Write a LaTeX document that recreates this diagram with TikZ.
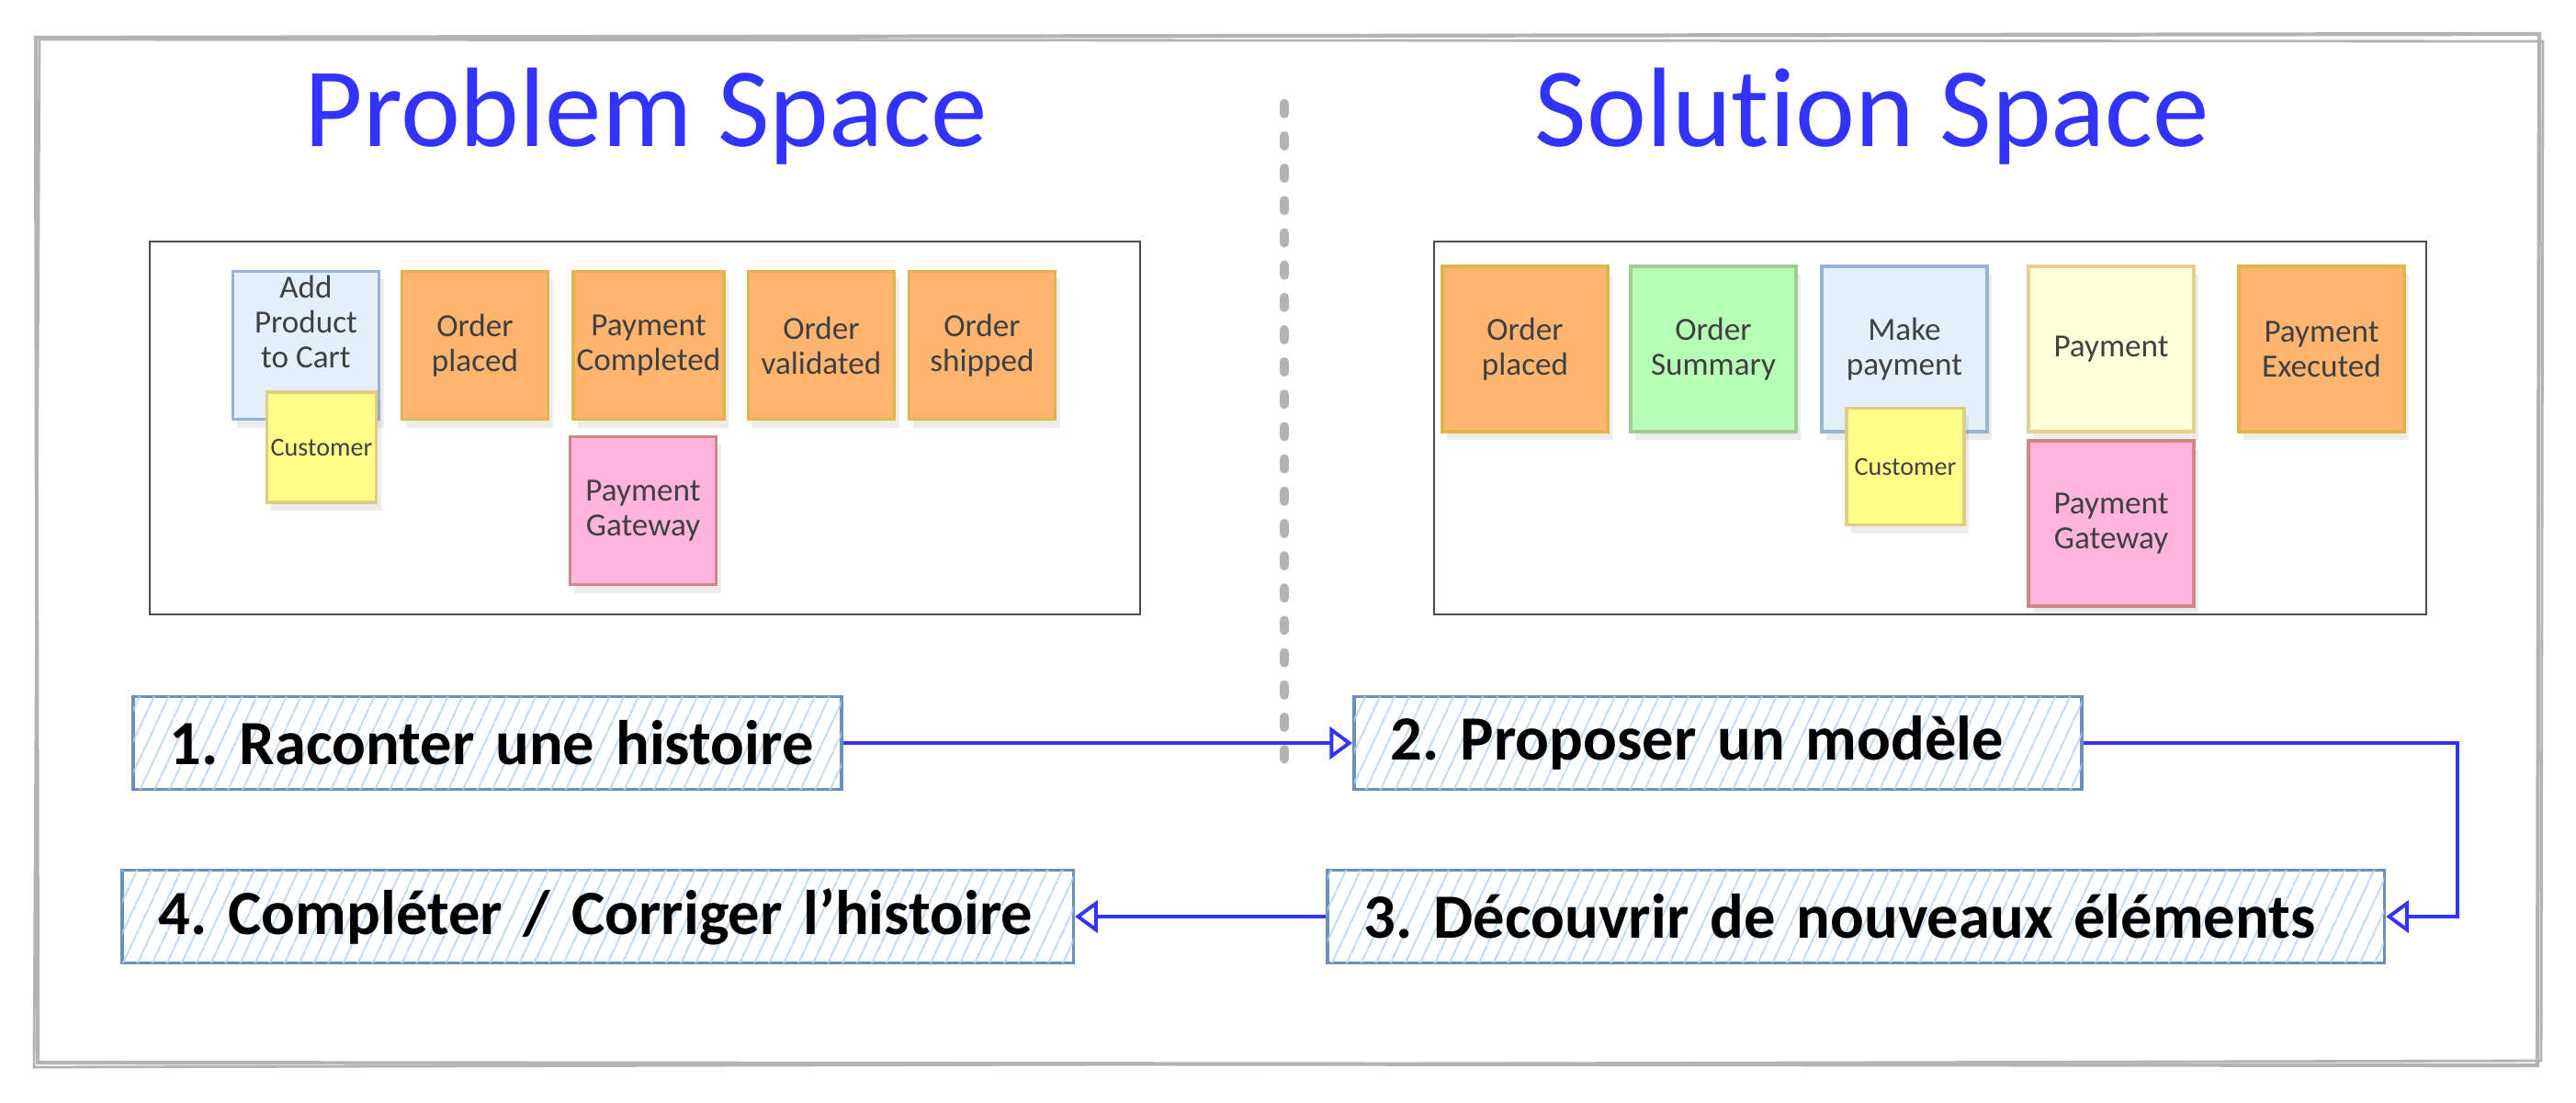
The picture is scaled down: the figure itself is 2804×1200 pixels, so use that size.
\documentclass[tikz,border=0pt]{standalone}
\usepackage{fontspec}
\setmainfont[Ligatures={NoCommon}]{Carlito}
\usetikzlibrary{arrows.meta, shadows, patterns.meta}
\frenchspacing
\definecolor{titleblue}{HTML}{3333FF}
\definecolor{framegray}{HTML}{B3B3B3}
\definecolor{boardgray}{HTML}{4D4D4D}
\definecolor{notetext}{HTML}{404040}
\definecolor{orangefill}{HTML}{FFB570}
\definecolor{orangeline}{HTML}{E0B64C}
\definecolor{bluefill}{HTML}{E5EFFC}
\definecolor{blueline}{HTML}{9AB3D5}
\definecolor{yellowfill}{HTML}{FFFF88}
\definecolor{yellowline}{HTML}{E0CC84}
\definecolor{pinkfill}{HTML}{FFB5DB}
\definecolor{pinkline}{HTML}{CF8686}
\definecolor{greenfill}{HTML}{B6FFB6}
\definecolor{greenline}{HTML}{A6CC96}
\definecolor{paleyellow}{HTML}{FFFFD9}
\definecolor{paleline}{HTML}{E3D08C}
\definecolor{stepline}{HTML}{6C8EBF}
\definecolor{hatch}{HTML}{B5D0F2}

\begin{document}
\begin{tikzpicture}[x=0.01cm, y=-0.01cm,
  sticky/.style={draw, line width=1pt, align=center, text=notetext,
    font=\fontsize{10}{10.8}\selectfont, inner sep=1pt,
    drop shadow={opacity=0.15, shadow xshift=0.05cm, shadow yshift=-0.09cm}},
  smallnote/.style={sticky, minimum width=1.59cm, minimum height=1.61cm},
  bignote/.style={sticky, minimum width=1.80cm, minimum height=1.80cm},
  event/.style={fill=orangefill, draw=orangeline},
  command/.style={fill=bluefill, draw=blueline},
  actor/.style={fill=yellowfill, draw=yellowline, font=\fontsize{8}{10}\selectfont},
  external/.style={fill=pinkfill, draw=pinkline},
  readmodel/.style={fill=greenfill, draw=greenline},
  aggregate/.style={fill=paleyellow, draw=paleline},
  stepbox/.style={draw=stepline, line width=1pt, fill=white,
    postaction={pattern={Lines[angle=65, distance=4pt, line width=0.5pt]}, pattern color=hatch},
    font=\fontsize{19.5}{22}\selectfont\bfseries, align=left, inner xsep=0.4cm,
    minimum height=1.01cm, anchor=west},
  flow/.style={draw=titleblue, line width=1.1pt, -{Triangle[open, length=7pt, width=10pt]}}
]
\useasboundingbox (0,0) rectangle (2804,1200);

% sketchy frame
\draw[framegray, line width=1.2pt] (39,41) -- (2764,37) -- (2762,1160) -- (41,1157) -- cycle;
\draw[framegray, line width=0.8pt] (43,43) -- (2768,45) -- (2766,1155) -- (37,1162) -- cycle;

% titles and separator
\node[anchor=base, text=titleblue, font=\fontsize{35}{38}\selectfont] (problem) at (703,159) {Problem Space};
\node[anchor=base, text=titleblue, font=\fontsize{35}{38}\selectfont] (solution) at (2038,159) {Solution Space};
\draw[framegray, line width=3pt, line cap=round, dash pattern=on 3pt off 7pt] (1398,113) -- (1398,826);

% problem space board
\draw[boardgray, line width=0.6pt] (163,263) rectangle (1241,669);
\node[smallnote, command] (addcart) at (333,376) {Add\\Product\\to Cart\\[4pt]};
\node[smallnote, event] (placed) at (517,376) {Order\\placed};
\node[smallnote, event] (completed) at (706,376) {Payment\\Completed};
\node[smallnote, event] (validated) at (894,376) {Order\\validated};
\node[smallnote, event] (shipped) at (1069,376) {Order\\shipped};
\node[sticky, actor, minimum width=1.19cm, minimum height=1.2cm] (buyer) at (350,487) {Customer};
\node[smallnote, external] (gateway) at (700,556) {Payment\\Gateway};

% solution space board
\draw[boardgray, line width=0.6pt] (1561,263) rectangle (2641,669);
\node[bignote, event] (placedB) at (1660,380) {Order\\placed};
\node[bignote, readmodel] (summary) at (1865,380) {Order\\Summary};
\node[bignote, command] (makepay) at (2073,380) {Make\\payment};
\node[bignote, aggregate] (payment) at (2298,380) {Payment};
\node[bignote, event] (executed) at (2527,380) {Payment\\Executed};
\node[sticky, actor, minimum width=1.28cm, minimum height=1.27cm] (buyerB) at (2074,508) {Customer};
\node[bignote, external] (gatewayB) at (2298,570) {Payment\\Gateway};

% steps
\node[stepbox, text width=6.91cm] (tell) at (143,809) {\mbox{1. Raconter une histoire}};
\node[stepbox, text width=7.12cm] (model) at (1472,809) {2. Proposer un modèle};
\node[stepbox, text width=10.7cm] (discover) at (1443,998) {3. Découvrir de nouveaux éléments};
\node[stepbox, text width=9.55cm] (fix) at (131,998) {4. Compléter / Corriger l’histoire};
\coordinate (turn) at (2675,900);

\draw[flow] (tell.east) -- (model.west);
\draw[flow] (model.east) -- (model.east -| turn) -- (discover.east -| turn) -- (discover.east);
\draw[flow] (discover.west) -- (fix.east);
\end{tikzpicture}
\end{document}
